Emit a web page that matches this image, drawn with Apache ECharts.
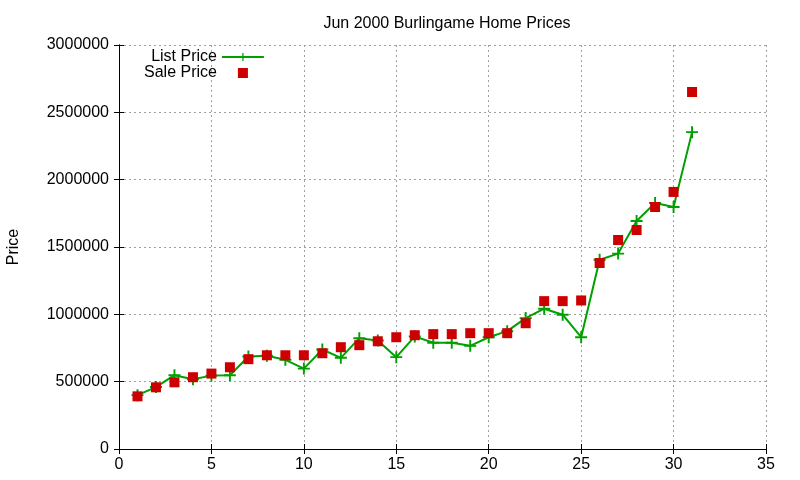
<!DOCTYPE html>
<html>
<head>
<meta charset="utf-8">
<script src="https://cdn.jsdelivr.net/npm/echarts@6/dist/echarts.min.js"></script>
<style>
html, body { margin: 0; padding: 0; background: #fff; }
#chart { width: 800px; height: 480px; }
</style>
</head>
<body>
<div id="chart"></div>
<script>
// day of month
var days = [1, 2, 3, 4, 5, 6, 7, 8, 9, 10, 11, 12, 13, 14, 15, 16, 17, 18, 19, 20, 21, 22, 23, 24, 25, 26, 27, 28, 29, 30, 31];

// list prices (line)
var listPrice = [400000, 460000, 548000, 518000, 545000, 548000, 687000, 692000, 662000, 597000,
    739000, 677000, 823000, 806000, 682000, 836000, 789000, 789000, 766000, 830000,
    875000, 972000, 1042000, 997000, 830000, 1405000, 1451000, 1693000, 1827000, 1797000, 2353000];

// sale prices (points)
var salePrice = [391000, 458000, 495000, 533000, 560000, 607000, 667000, 696000, 696000, 696000,
    711000, 756000, 771000, 800000, 830000, 845000, 853000, 853000, 860000, 860000,
    860000, 934000, 1098000, 1098000, 1103000, 1381000, 1552000, 1626000, 1797000, 1909000, 2651000];

var plusPath = 'path://M-1.6,-10 L1.6,-10 L1.6,-1.6 L10,-1.6 L10,1.6 L1.6,1.6 L1.6,10 L-1.6,10 L-1.6,1.6 L-10,1.6 L-10,-1.6 L-1.6,-1.6 Z';
var squarePath = 'path://M0,0 L10,0 L10,10 L0,10 Z';

function pairs(ys) {
    return days.map(function (d, i) { return [d, ys[i]]; });
}

var myChart = echarts.init(document.getElementById('chart'));

var font = 'Liberation Sans, Arial, sans-serif';
var gridLine = { show: true, lineStyle: { color: '#a0a0a0', type: [2, 3], width: 1 } };

var option = {
    animation: false,
    backgroundColor: '#fff',
    title: {
        text: 'Jun 2000 Burlingame Home Prices',
        left: 442, top: 11, textAlign: 'center',
        textStyle: { fontFamily: font, fontSize: 16, fontWeight: 'normal', color: '#000' }
    },
    legend: {
        left: 139, top: 44,
        orient: 'vertical',
        align: 'right',
        itemWidth: 42, itemHeight: 10, itemGap: 0,
        textStyle: { fontFamily: font, fontSize: 16, lineHeight: 16, color: '#000' },
        data: ['List Price', 'Sale Price']
    },
    grid: { left: 119, right: 34, top: 45, bottom: 31, outerBoundsMode: 'none', containLabel: false },
    xAxis: [{
        type: 'value', min: 0, max: 35, interval: 5,
        axisLine: { show: true, lineStyle: { color: '#000', width: 1 } },
        axisTick: { show: true, inside: true, length: 5, lineStyle: { color: '#000' } },
        axisLabel: { fontFamily: font, fontSize: 16, color: '#000', margin: 8 },
        splitLine: gridLine
    }, {
        type: 'value', min: 0, max: 35, interval: 5, position: 'top',
        axisLine: { show: true, lineStyle: { color: '#000', width: 1 } },
        axisTick: { show: true, inside: true, length: 5, lineStyle: { color: '#000' } },
        axisLabel: { show: false }, splitLine: { show: false }
    }],
    yAxis: [{
        type: 'value', min: 0, max: 3000000, interval: 500000,
        name: 'Price', nameLocation: 'middle', nameGap: 97, nameRotate: 90,
        nameTextStyle: { fontFamily: font, fontSize: 16, color: '#000' },
        axisLine: { show: true, lineStyle: { color: '#000', width: 1 } },
        axisTick: { show: true, inside: true, length: 5, lineStyle: { color: '#000' } },
        axisLabel: {
            fontFamily: font, fontSize: 16, color: '#000', margin: 10,
            formatter: function (v) { return String(v); }
        },
        splitLine: gridLine
    }, {
        type: 'value', min: 0, max: 3000000, interval: 500000, position: 'right',
        axisLine: { show: true, lineStyle: { color: '#000', width: 1 } },
        axisTick: { show: true, inside: true, length: 5, lineStyle: { color: '#000' } },
        axisLabel: { show: false }, splitLine: { show: false }
    }],
    series: [{
        name: 'List Price',
        type: 'line',
        data: pairs(listPrice),
        symbol: plusPath,
        symbolSize: 12,
        showAllSymbol: true,
        lineStyle: { color: '#00a000', width: 2 },
        itemStyle: { color: '#00a000' },
        z: 2
    }, {
        name: 'Sale Price',
        type: 'scatter',
        data: pairs(salePrice),
        symbol: squarePath,
        symbolKeepAspect: true,
        symbolSize: 10,
        itemStyle: { color: '#cc0000', opacity: 1 },
        z: 3
    }]
};

myChart.setOption(option);
</script>
</body>
</html>
